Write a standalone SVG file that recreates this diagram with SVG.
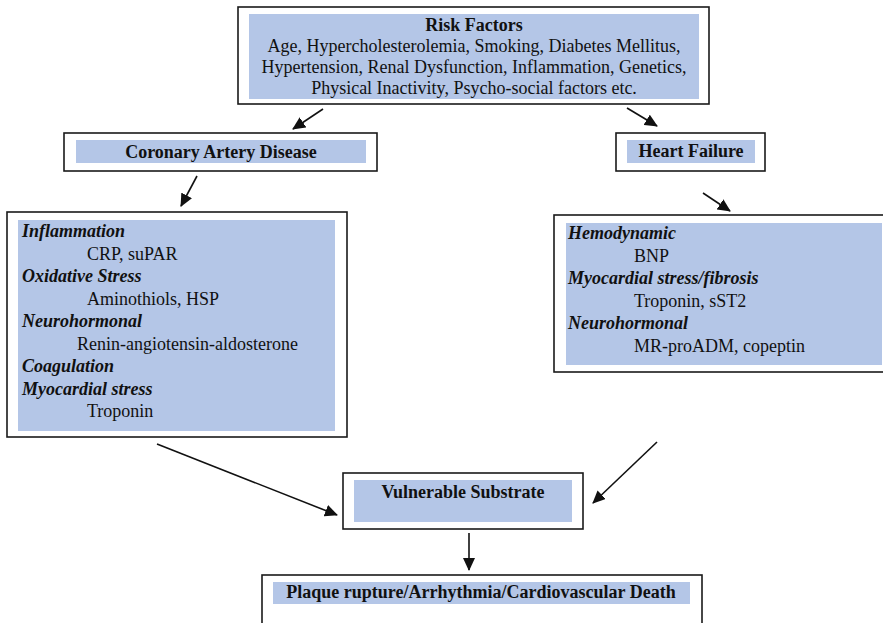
<svg xmlns="http://www.w3.org/2000/svg" width="883" height="623" viewBox="0 0 883 623">
<style>
.outer{fill:#ffffff;stroke:#1a1a1a;stroke-width:1.6}
.inner{fill:#b4c6e7;stroke:none}
text{font-family:"Liberation Serif","Times New Roman",serif;font-size:18px;fill:#111}
.t{font-weight:bold;text-anchor:middle}
.c{text-anchor:middle}
.h{font-weight:bold;font-style:italic}
.conn line{stroke:#111;stroke-width:1.6;marker-end:url(#ah)}
</style>
<defs>
<marker id="ah" markerUnits="userSpaceOnUse" markerWidth="14" markerHeight="12" refX="12" refY="6" orient="auto">
<path d="M0,0 L13,6 L0,12 Z" fill="#111"/>
</marker>
</defs>
<rect width="883" height="623" fill="#ffffff"/>
<g id="risk-factors">
<rect class="outer" x="238" y="7" width="471" height="97"/>
<rect class="inner" x="249" y="14" width="450" height="85"/>
<text class="t" x="474" y="31">Risk Factors</text>
<text class="c" x="474" y="52">Age, Hypercholesterolemia, Smoking, Diabetes Mellitus,</text>
<text class="c" x="474" y="73">Hypertension, Renal Dysfunction, Inflammation, Genetics,</text>
<text class="c" x="474" y="94">Physical Inactivity, Psycho-social factors etc.</text>
</g>
<g id="cad">
<rect class="outer" x="64" y="133" width="313" height="38"/>
<rect class="inner" x="76" y="140" width="290" height="23"/>
<text class="t" x="221" y="158">Coronary Artery Disease</text>
</g>
<g id="hf">
<rect class="outer" x="616" y="133" width="149" height="38"/>
<rect class="inner" x="627" y="140" width="128" height="23"/>
<text class="t" x="691" y="157">Heart Failure</text>
</g>
<g id="cad-markers">
<rect class="outer" x="7" y="212" width="340" height="225"/>
<rect class="inner" x="18" y="220" width="317" height="211"/>
<text class="h" x="22" y="237">Inflammation</text>
<text x="87" y="259.5">CRP, suPAR</text>
<text class="h" x="22" y="282">Oxidative Stress</text>
<text x="87" y="304.5">Aminothiols, HSP</text>
<text class="h" x="22" y="327">Neurohormonal</text>
<text x="77" y="349.5">Renin-angiotensin-aldosterone</text>
<text class="h" x="22" y="372">Coagulation</text>
<text class="h" x="22" y="394.5">Myocardial stress</text>
<text x="87" y="417">Troponin</text>
</g>
<g id="hf-markers">
<rect class="outer" x="554" y="215" width="340" height="157"/>
<rect class="inner" x="566" y="223" width="316" height="142"/>
<text class="h" x="568" y="239">Hemodynamic</text>
<text x="634" y="261.5">BNP</text>
<text class="h" x="568" y="284">Myocardial stress/fibrosis</text>
<text x="634" y="306.5">Troponin, sST2</text>
<text class="h" x="568" y="329">Neurohormonal</text>
<text x="634" y="351.5">MR-proADM, copeptin</text>
</g>
<g id="vulnerable-substrate">
<rect class="outer" x="343" y="473" width="240" height="56"/>
<rect class="inner" x="354" y="480" width="218" height="42"/>
<text class="t" x="463" y="498">Vulnerable Substrate</text>
</g>
<g id="outcome">
<rect class="outer" x="262" y="575" width="440" height="60"/>
<rect class="inner" x="273" y="582" width="417" height="22"/>
<text class="t" x="481" y="598">Plaque rupture/Arrhythmia/Cardiovascular Death</text>
</g>
<g id="connectors" class="conn">
<line x1="323" y1="109" x2="293" y2="129"/>
<line x1="627" y1="108" x2="657" y2="126"/>
<line x1="197" y1="176" x2="181" y2="206"/>
<line x1="703" y1="193" x2="730" y2="211"/>
<line x1="157" y1="444" x2="337" y2="515"/>
<line x1="657" y1="442" x2="593" y2="503"/>
<line x1="469" y1="533" x2="469" y2="570"/>
</g>
</svg>
